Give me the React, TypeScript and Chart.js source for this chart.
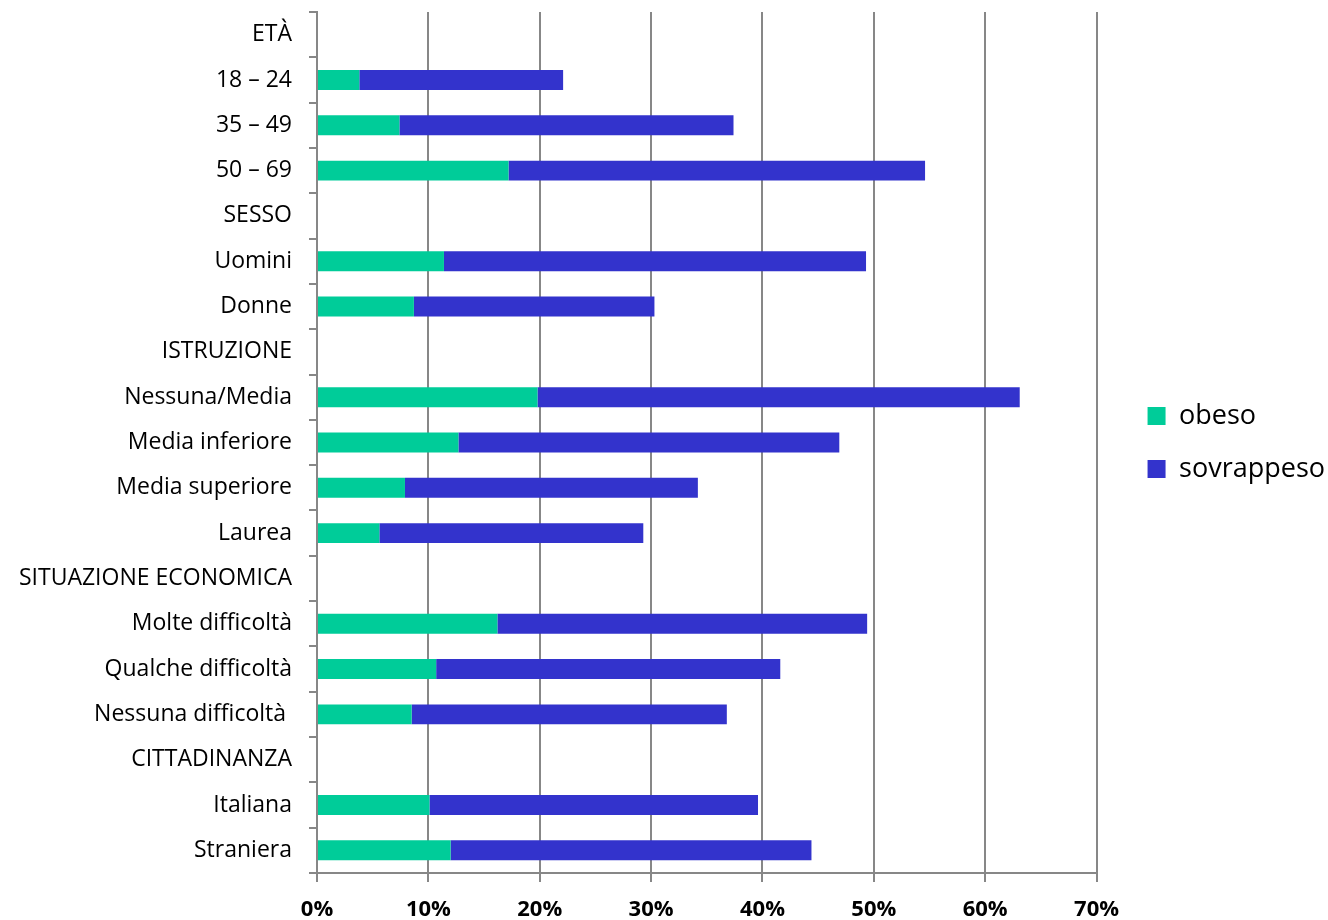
import React, { useEffect, useRef } from "react";
import { Chart, registerables } from "chart.js";

Chart.register(...registerables);

const categories = [
  "ETÀ",
  "18 – 24",
  "35 – 49",
  "50 – 69",
  "SESSO",
  "Uomini",
  "Donne",
  "ISTRUZIONE",
  "Nessuna/Media",
  "Media inferiore",
  "Media superiore",
  "Laurea",
  "SITUAZIONE ECONOMICA",
  "Molte difficoltà",
  "Qualche difficoltà",
  "Nessuna difficoltà ",
  "CITTADINANZA",
  "Italiana",
  "Straniera",
];

const obeso = [null, 3.8, 7.4, 17.2, null, 11.4, 8.7, null, 19.8, 12.7, 7.9, 5.6, null, 16.2, 10.7, 8.5, null, 10.1, 12.0];
const sovrappeso = [null, 18.3, 30.0, 37.4, null, 37.9, 21.6, null, 43.3, 34.2, 26.3, 23.7, null, 33.2, 30.9, 28.3, null, 29.5, 32.4];

const xTicks = [0, 10, 20, 30, 40, 50, 60, 70];

const GRID = "#878787";

export default function App() {
  const canvasRef = useRef<HTMLCanvasElement | null>(null);

  useEffect(() => {
    document.body.style.margin = "0";
    const canvas = canvasRef.current;
    if (!canvas) return;
    const chart = new Chart(canvas, {
      type: "bar",
      data: {
        labels: categories,
        datasets: [
          {
            label: "obeso",
            data: obeso as any,
            backgroundColor: "#00CC99",
            borderWidth: 0,
            barPercentage: 0.44,
            categoryPercentage: 1,
          },
          {
            label: "sovrappeso",
            data: sovrappeso as any,
            backgroundColor: "#3333CC",
            borderWidth: 0,
            barPercentage: 0.44,
            categoryPercentage: 1,
          },
        ],
      },
      options: {
        indexAxis: "y",
        animation: false,
        responsive: true,
        maintainAspectRatio: false,
        layout: { padding: { top: 12, left: 0, right: -7, bottom: 0 } },
        plugins: {
          tooltip: { enabled: false },
          legend: {
            position: "right",
            align: "center",
            fullSize: false,
            labels: {
              font: { family: "'Open Sans'", size: 27 },
              color: "#000000",
              boxWidth: 18,
              boxHeight: 18,
              padding: 26,
            },
          },
        },
        scales: {
          x: {
            stacked: true,
            min: 0,
            max: 70,
            afterBuildTicks: (s: any) => {
              s.ticks = xTicks.map((v) => ({ value: v }));
            },
            afterFit: (s: any) => {
              s.height = 47;
            },
            grid: {
              color: GRID,
              lineWidth: 2,
              tickLength: 9,
            },
            border: { color: GRID, width: 2 },
            ticks: {
              padding: 15,
              color: "#000000",
              font: { family: "'Open Sans'", size: 22, weight: "bold" },
              callback: (v: any) => v + "%",
            },
          },
          y: {
            stacked: true,
            afterFit: (s: any) => {
              s.width = 317;
              s.paddingTop = 0;
              s.paddingBottom = 0;
            },
            grid: {
              color: GRID,
              lineWidth: 2,
              drawOnChartArea: false,
              tickLength: 8,
              offset: true,
            },
            border: { color: GRID, width: 2 },
            ticks: {
              padding: 17,
              color: "#000000",
              autoSkip: false,
              font: { family: "'Open Sans'", size: 23 },
            },
          },
          spacer: {
            type: "linear",
            position: "right",
            display: true,
            grid: { display: false, drawTicks: false },
            border: { display: false },
            ticks: { display: false },
            afterFit: (s: any) => {
              s.width = 25;
              s.paddingTop = 0;
              s.paddingBottom = 0;
            },
          },
        },
      } as any,
    });
    return () => chart.destroy();
  }, []);

  return (
    <div style={{ width: 1328, height: 920, position: "relative" }}>
      <canvas ref={canvasRef} />
    </div>
  );
}
